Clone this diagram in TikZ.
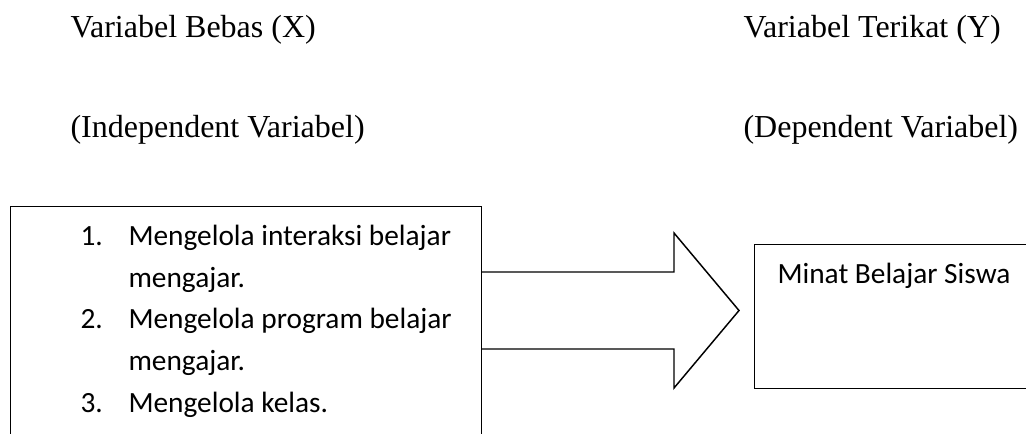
\documentclass[tikz,border=0pt]{standalone}
\usepackage{fontspec}
\setmainfont{Liberation Serif}
\newfontfamily\calibri{Carlito}

\tikzset{
  kotak/.style={draw, line width=0.55pt, inner sep=0pt},
  judul/.style={font=\fontsize{12}{14}\selectfont, inner sep=0pt, anchor=base west},
  isi/.style={font=\calibri\fontsize{11}{13}\selectfont, inner sep=0pt, anchor=base west},
  panah/.style={draw, line width=0.55pt, line join=miter}
}

\begin{document}
\begin{tikzpicture}[x=0.375pt, y=-0.375pt]
% ukuran gambar 1026 x 433 (satuan = piksel)
\useasboundingbox (0,0) rectangle (1026,433);
\clip (0,0) rectangle (1026,433);

% judul variabel
\node[judul] (bebas) at (70,37) {Variabel Bebas (X)};
\node[judul] (indep) at (70,137) {(Independent Variabel)};
\node[judul] (terikat) at (743,37) {Variabel Terikat (Y)};
\node[judul] (dep) at (743,137) {(Dependent Variabel)};

% kotak kiri (terpotong di bawah)
\node[kotak, anchor=north west, minimum width=176.6pt, minimum height=99pt] (kiri) at (10,206) {};
\node[isi] (n1) at (80,245) {1.};
\node[isi] (t1) at (128,245) {Mengelola interaksi belajar};
\node[isi] (t1b) at (128,287) {mengajar.};
\node[isi] (n2) at (80,328) {2.};
\node[isi] (t2) at (128,328) {Mengelola program belajar};
\node[isi] (t2b) at (128,370) {mengajar.};
\node[isi] (n3) at (80,412) {3.};
\node[isi] (t3) at (128,412) {Mengelola kelas.};

% kotak kanan (terpotong di kanan)
\node[kotak, anchor=north west, minimum width=112pt, minimum height=54pt] (kanan) at (754,244) {};
\node[isi] (minat) at (777,283) {Minat Belajar Siswa};

% panah blok
\draw[panah] (481,272) -- (674,272) -- (674,233) -- (739,310.5) -- (674,388) -- (674,349) -- (481,349);
\end{tikzpicture}
\end{document}
